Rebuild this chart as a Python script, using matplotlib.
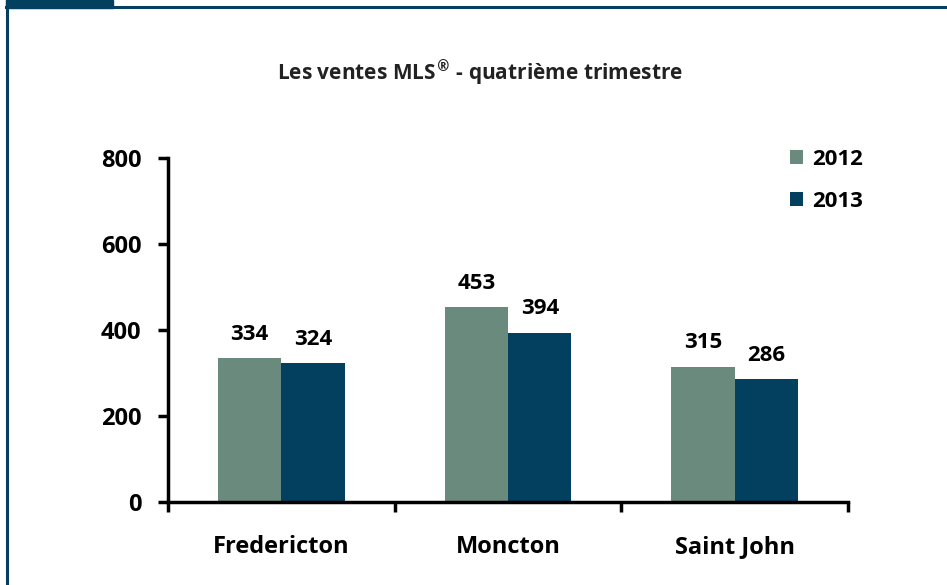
import numpy as np
import matplotlib
matplotlib.use("Agg")
import matplotlib.pyplot as plt
from matplotlib.lines import Line2D
from matplotlib.patches import Rectangle

plt.rcParams["font.family"] = ["Open Sans", "DejaVu Sans"]
plt.rcParams["font.weight"] = "bold"

cities = ["Fredericton", "Moncton", "Saint John"]
years = ["2012", "2013"]
sales_2012 = [334, 453, 315]
sales_2013 = [324, 394, 286]

colors = ["#6B8A7E", "#03405F"]
navy = "#03405F"

fig = plt.figure(figsize=(9.47, 5.85), dpi=100)
ax = fig.add_axes([0.1774, 0.1419, 0.7181, 0.588])

x = np.arange(len(cities))
w = 0.28
b1 = ax.bar(x - w / 2, sales_2012, w, color=colors[0], label=years[0])
b2 = ax.bar(x + w / 2, sales_2013, w, color=colors[1], label=years[1])

for bars in (b1, b2):
    for rect in bars:
        ax.annotate(f"{rect.get_height():.0f}",
                    (rect.get_x() + rect.get_width() / 2, rect.get_height()),
                    xytext=(0, 17), textcoords="offset points",
                    ha="center", va="center", fontsize=16, fontweight="bold")

ax.set_xlim(-0.5, 2.5)
ax.set_ylim(0, 800)
ax.set_yticks([0, 200, 400, 600, 800])
ax.set_xticks(x)
ax.set_xticklabels(cities)
ax.set_xticks([-0.5, 0.5, 1.5, 2.5], minor=True)
ax.tick_params(axis="x", which="major", length=0, pad=24, labelsize=17)
ax.tick_params(axis="x", which="minor", length=7, width=2.5, direction="out")
ax.tick_params(axis="y", length=7, width=2.5, direction="out", pad=12, labelsize=17)
for lab in ax.get_xticklabels() + ax.get_yticklabels():
    lab.set_fontweight("bold")

for s in ["top", "right"]:
    ax.spines[s].set_visible(False)
for s in ["left", "bottom"]:
    ax.spines[s].set_linewidth(2.5)

fig.text(0.507, 0.875, "Les ventes MLS$^{\\circledR}$ - quatrième trimestre",
         ha="center", va="center", fontsize=15, fontweight="bold", color="#222222")

ax.legend(loc="upper left", bbox_to_anchor=(0.885, 1.085), frameon=False,
          handlelength=0.6, handleheight=0.6, handletextpad=0.4,
          labelspacing=0.95, prop={"weight": "bold", "size": 16})

# frame decoration around the chart
fig.add_artist(Line2D([0.0075, 0.0075], [0, 1], color=navy, lw=2.2,
                      transform=fig.transFigure))
fig.add_artist(Line2D([0.006, 1], [0.9885, 0.9885], color=navy, lw=2.2,
                      transform=fig.transFigure))
fig.add_artist(Rectangle((0.006, 0.986), 0.113, 0.014, color=navy,
                         transform=fig.transFigure))

fig.savefig("out.png", dpi=100)
